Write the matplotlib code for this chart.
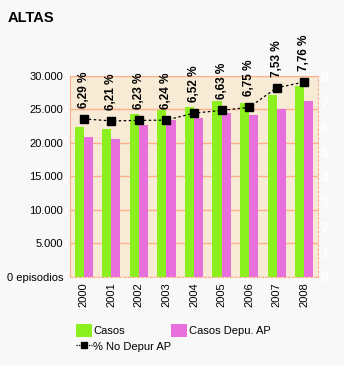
import numpy as np
import matplotlib.pyplot as plt
from matplotlib.patches import Patch
from matplotlib.lines import Line2D

plt.rcParams["font.family"] = ["Liberation Sans", "DejaVu Sans"]

# ========================================
# data
# ========================================
years = ["2000", "2001", "2002", "2003", "2004", "2005", "2006", "2007", "2008"]
casos = [22350, 22050, 24250, 24850, 25350, 26250, 25950, 27150, 28500]
casos_depu = [20950, 20650, 22750, 23350, 23650, 24400, 24150, 25050, 26200]
pct_no_depur = [6.29, 6.21, 6.23, 6.24, 6.52, 6.63, 6.75, 7.53, 7.76]

y_ticks = [0, 5000, 10000, 15000, 20000, 25000, 30000]
y_labels = ["0 episodios", "5.000", "10.000", "15.000", "20.000", "25.000", "30.000"]

green = "#8cf01e"
magenta = "#e870dc"
salmon = "#fcb08c"
beige = "#f7ebd5"

W, H = 344, 365
fig = plt.figure(figsize=(W / 100, H / 100), dpi=100, facecolor="#f8f8f8")
ax = fig.add_axes([70 / W, (H - 276.7) / H, 248 / W, 200.7 / H])
ax.set_facecolor(beige)

x = np.arange(len(years))
bw = 0.33
ax.bar(x - bw / 2, casos, bw, color=green, zorder=2)
ax.bar(x + bw / 2, casos_depu, bw, color=magenta, zorder=2)

ax.set_xlim(-0.5, len(years) - 0.5)
ax.set_ylim(0, 30000)
ax.set_yticks(y_ticks)
ax.set_yticklabels(y_labels, fontsize=8)
ax.set_xticks(x)
ax.set_xticklabels(years, rotation=90, fontsize=8)
ax.tick_params(axis="both", length=0)
ax.tick_params(axis="y", pad=5)
ax.tick_params(axis="x", pad=4)
ax.yaxis.grid(True, color=salmon, linewidth=1)
ax.set_axisbelow(True)

for side in ["left", "top"]:
    ax.spines[side].set_color(salmon)
for side in ["bottom", "right"]:
    ax.spines[side].set_color(salmon)
    ax.spines[side].set_linestyle((0, (2, 2)))

# secondary axis for percentage
ax2 = ax.twinx()
ax2.set_ylim(0, 8)
ax2.set_yticks(range(9))
ax2.tick_params(axis="y", length=0, labelcolor="white", labelsize=10, pad=2)
for lab in ax2.get_yticklabels():
    lab.set_fontweight("bold")
for s in ax2.spines.values():
    s.set_visible(False)
ax2.plot(x, pct_no_depur, color="black", linestyle="--", dashes=(2, 2), linewidth=0.9,
         marker="s", markersize=6, zorder=3)
for xi, v in zip(x, pct_no_depur):
    ax2.annotate(("%.2f %%" % v).replace(".", ","), (xi, v), xytext=(0, 8),
                 textcoords="offset points", rotation=90, ha="center", va="bottom",
                 fontsize=8.5, fontweight="bold", annotation_clip=False)

fig.text(8 / W, 1 - 18 / H, "ALTAS", fontsize=10.5, fontweight="bold", va="center")

handles = [
    Patch(facecolor=green, edgecolor="none", label="Casos"),
    Line2D([], [], color="black", linestyle="--", dashes=(1, 1), linewidth=0.9,
           marker="s", markersize=5, label="% No Depur AP"),
    Patch(facecolor=magenta, edgecolor="none", label="Casos Depu. AP"),
]
fig.legend(handles=handles, ncol=2, loc="upper left", bbox_to_anchor=(66 / W, 1 - 314 / H),
           frameon=False, fontsize=8, handlelength=1.4, handleheight=1.4,
           handletextpad=0.15, columnspacing=0.0, labelspacing=0.3)

fig.savefig("out.png", dpi=100, facecolor=fig.get_facecolor())
